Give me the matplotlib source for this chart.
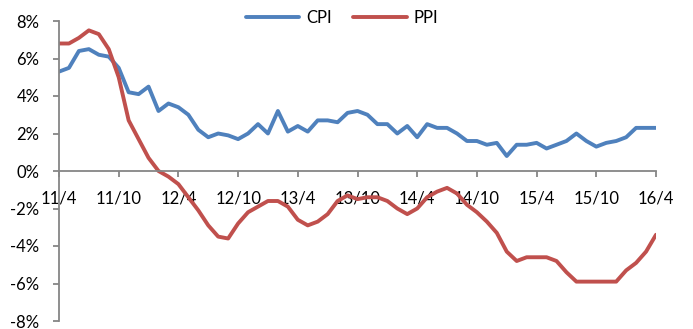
import matplotlib.pyplot as plt
from matplotlib.ticker import FuncFormatter

plt.rcParams['font.family'] = ['Lato', 'DejaVu Sans']

# monthly yoy, 2011/4 .. 2016/4
cpi = [5.3, 5.5, 6.4, 6.5, 6.2, 6.1, 5.5, 4.2, 4.1,
       4.5, 3.2, 3.6, 3.4, 3.0, 2.2, 1.8, 2.0, 1.9, 1.7, 2.0, 2.5,
       2.0, 3.2, 2.1, 2.4, 2.1, 2.7, 2.7, 2.6, 3.1, 3.2, 3.0, 2.5,
       2.5, 2.0, 2.4, 1.8, 2.5, 2.3, 2.3, 2.0, 1.6, 1.6, 1.4, 1.5,
       0.8, 1.4, 1.4, 1.5, 1.2, 1.4, 1.6, 2.0, 1.6, 1.3, 1.5, 1.6,
       1.8, 2.3, 2.3, 2.3]
ppi = [6.8, 6.8, 7.1, 7.5, 7.3, 6.5, 5.0, 2.7, 1.7,
       0.7, 0.0, -0.3, -0.7, -1.4, -2.1, -2.9, -3.5, -3.6, -2.8, -2.2, -1.9,
       -1.6, -1.6, -1.9, -2.6, -2.9, -2.7, -2.3, -1.6, -1.3, -1.5, -1.4, -1.4,
       -1.6, -2.0, -2.3, -2.0, -1.4, -1.1, -0.9, -1.2, -1.8, -2.2, -2.7, -3.3,
       -4.3, -4.8, -4.6, -4.6, -4.6, -4.8, -5.4, -5.9, -5.9, -5.9, -5.9, -5.9,
       -5.3, -4.9, -4.3, -3.4]
tick_labels = ['11/4', '11/10', '12/4', '12/10', '13/4', '13/10',
               '14/4', '14/10', '15/4', '15/10', '16/4']

W, H = 693, 329
fig = plt.figure(figsize=(W / 100, H / 100), dpi=100)
ax = fig.add_axes([59 / W, 8 / H, (656 - 59) / W, 300 / H])

x = range(len(cpi))
ax.plot(x, cpi, color='#4F81BD', lw=2.8, label='CPI', solid_capstyle='round')
ax.plot(x, ppi, color='#C0504D', lw=2.8, label='PPI', solid_capstyle='round')

ax.set_xlim(0, len(cpi) - 1)
ax.set_ylim(-8, 8)
ax.set_yticks(range(-8, 9, 2))
ax.yaxis.set_major_formatter(FuncFormatter(lambda v, p: f'{v:.0f}%'))
ax.set_xticks(range(0, len(cpi), 6))
ax.set_xticklabels(tick_labels)

for s in ['top', 'right']:
    ax.spines[s].set_visible(False)
ax.spines['bottom'].set_position(('data', 0))
for s in ['left', 'bottom']:
    ax.spines[s].set_color('#868686')
    ax.spines[s].set_linewidth(1.3)

ax.tick_params(axis='both', colors='#868686', labelcolor='black',
               labelsize=12, length=4, width=1.3)
ax.tick_params(axis='x', pad=10)
ax.tick_params(axis='y', pad=10)

ax.legend(loc='center', bbox_to_anchor=(342 / W, 1 - 18 / H),
          bbox_transform=fig.transFigure, ncol=2, frameon=False,
          fontsize=12, handlelength=3.2, columnspacing=1.3, handletextpad=0.4)

fig.savefig('out.png', dpi=100)
